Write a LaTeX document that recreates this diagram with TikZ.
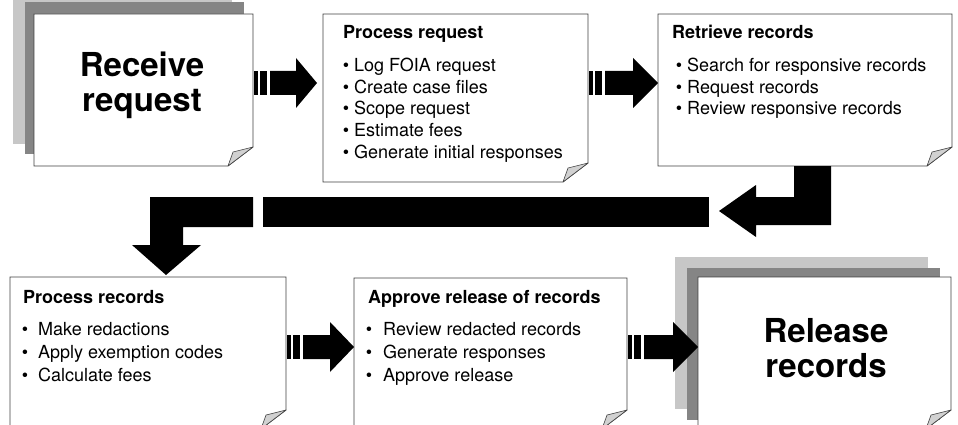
\documentclass[tikz,border=0pt]{standalone}
\usepackage{fontspec}
\setmainfont{TeX Gyre Heros}
\usetikzlibrary{calc}
\tikzset{
  boxline/.style={draw=black!75, line width=0.8pt, fill=white},
  flap/.style={draw=black!75, line width=0.6pt, fill=black!18, line join=round},
  shadelight/.style={fill=black!22, draw=none},
  shadedark/.style={fill=black!48, draw=none},
  frame/.style={inner sep=0pt, outer sep=0pt, draw=none},
  ttl/.style={anchor=base west, inner sep=0pt, font=\fontsize{18}{21}\selectfont\bfseries},
  itm/.style={anchor=base west, inner sep=0pt, font=\fontsize{18}{21}\selectfont},
  bul/.style={anchor=base, inner sep=0pt, font=\fontsize{18}{21}\selectfont},
  big/.style={anchor=base, inner sep=0pt, font=\fontsize{33}{35}\selectfont\bfseries},
}
\newcommand\foldbox[1]{%
  \draw[boxline] (#1.north west) -- (#1.north east) -- ($(#1.south east)+(0,-19)$)
     -- ($(#1.south east)+(-25,0)$) -- (#1.south west) -- cycle;
  \draw[flap] ($(#1.south east)+(-25,0)$) .. controls ($(#1.south east)+(-23,-7)$) .. ($(#1.south east)+(-20,-14)$)
     -- ($(#1.south east)+(0,-19)$) -- cycle;
}
\newcommand\shadows[5]{% node, light dx, light dy, dark dx, dark dy
  \fill[shadelight] ($(#1.north west)+(#2,#3)$) rectangle ($(#1.south east)+(#2,#3)$);
  \fill[shadedark] ($(#1.north west)+(#4,#5)$) rectangle ($(#1.south east)+(#4,#5)$);
}
\newcommand\blockarrow[3]{% start, tip, head length
  \fill ($(#1)+(1,-12)$) rectangle ($(#1)+(5,12)$);
  \fill ($(#1)+(7,-12)$) rectangle ($(#1)+(14,12)$);
  \fill ($(#1)+(17,-12)$) -- ($(#2)+(-#3,-12)$) -- ($(#2)+(-#3,-25)$) -- (#2)
     -- ($(#2)+(-#3,25)$) -- ($(#2)+(-#3,12)$) -- ($(#1)+(17,12)$) -- cycle;
}
\begin{document}
\begin{tikzpicture}[x=1pt, y=-1pt]
\useasboundingbox (0,0) rectangle (958,425);
\clip (0,0) rectangle (958,425);

% frames
\node[frame, minimum width=219pt, minimum height=152pt] (b1) at (143.5,90) {};
\node[frame, minimum width=265pt, minimum height=168pt] (b2) at (455.5,98) {};
\node[frame, minimum width=294pt, minimum height=152pt] (b3) at (805,90) {};
\node[frame, minimum width=276pt, minimum height=152pt] (b4) at (148,353) {};
\node[frame, minimum width=273pt, minimum height=151pt] (b5) at (490.5,353.5) {};
\node[frame, minimum width=253pt, minimum height=152pt] (b6) at (824.5,353) {};

% shadows
\shadows{b1}{-21}{-22}{-9}{-12}
\shadows{b6}{-23}{-20}{-11}{-9}

% boxes
\foldbox{b1}
\foldbox{b2}
\foldbox{b3}
\foldbox{b4}
\foldbox{b5}
\foldbox{b6}

% straight block arrows
\coordinate (a1s) at ($(b1.east)+(0,-7)$);
\coordinate (a1t) at ($(b2.west)+(-6,-15)$);
\blockarrow{a1s}{a1t}{21}
\coordinate (a2s) at ($(b2.east)+(0,-15)$);
\coordinate (a2t) at ($(b3.west)+(0,-7)$);
\blockarrow{a2s}{a2t}{25}
\coordinate (a4s) at ($(b4.east)+(0,-6)$);
\coordinate (a4t) at ($(b5.west)+(0,-6.5)$);
\blockarrow{a4s}{a4t}{24}
\coordinate (a5s) at ($(b5.east)+(0,-6.5)$);
\coordinate (a5t) at ($(b6.west)+(0,-6)$);
\blockarrow{a5s}{a5t}{25}

% return connector from b3 to b4
\coordinate (r0) at (b3.south west);
\fill ($(r0)+(136,0)$) -- ($(r0)+(173,0)$) -- ($(r0)+(173,59)$) -- ($(r0)+(98,59)$)
   -- ($(r0)+(98,71)$) -- ($(r0)+(61,45)$) -- ($(r0)+(98,19)$) -- ($(r0)+(98,31)$)
   -- ($(r0)+(136,31)$) -- cycle;
\fill (263,197) rectangle (709,226.5);
\coordinate (r1) at (b4.north west);
\fill ($(r1)+(243,-80)$) -- ($(r1)+(243,-50)$) -- ($(r1)+(173,-50)$) -- ($(r1)+(173,-32)$)
   -- ($(r1)+(191,-32)$) -- ($(r1)+(156,-2)$) -- ($(r1)+(122,-32)$) -- ($(r1)+(140,-32)$)
   -- ($(r1)+(140,-80)$) -- cycle;

% big labels
\node[big] (rr1) at (142,77) {Receive};
\node[big] (rr2) at (142,112) {request};
\node[big] (rl1) at (826,342) {Release};
\node[big] (rl2) at (826,377) {records};

% box 2
\node[ttl] (t2) at (343,39) {Process request};
\node[bul] (u2a) at (346,72) {•};   \node[itm] (i2a) at (354,72) {Log FOIA request};
\node[bul] (u2b) at (346,93.5) {•}; \node[itm] (i2b) at (354,93.5) {Create case files};
\node[bul] (u2c) at (346,115) {•};  \node[itm] (i2c) at (354,115) {Scope request};
\node[bul] (u2d) at (346,136.5) {•};\node[itm] (i2d) at (354,136.5) {Estimate fees};
\node[bul] (u2e) at (346,158) {•};  \node[itm] (i2e) at (354,158) {Generate initial responses};

% box 3
\node[ttl] (t3) at (672,39) {Retrieve records};
\node[bul] (u3a) at (679,72) {•};   \node[itm] (i3a) at (687,72) {Search for responsive records};
\node[bul] (u3b) at (679,93.5) {•}; \node[itm] (i3b) at (687,93.5) {Request records};
\node[bul] (u3c) at (679,115) {•};  \node[itm] (i3c) at (687,115) {Review responsive records};

% box 4
\node[ttl] (t4) at (23,303) {Process records};
\node[bul] (u4a) at (25,335) {•}; \node[itm] (i4a) at (38,335) {Make redactions};
\node[bul] (u4b) at (25,358) {•}; \node[itm] (i4b) at (38,358) {Apply exemption codes};
\node[bul] (u4c) at (25,381) {•}; \node[itm] (i4c) at (38,381) {Calculate fees};

% box 5
\node[ttl] (t5) at (368,303) {Approve release of records};
\node[bul] (u5a) at (369,335) {•};   \node[itm] (i5a) at (383,335) {Review redacted records};
\node[bul] (u5b) at (369,358.5) {•}; \node[itm] (i5b) at (383,358.5) {Generate responses};
\node[bul] (u5c) at (369,381.5) {•}; \node[itm] (i5c) at (383,381.5) {Approve release};
\end{tikzpicture}
\end{document}
